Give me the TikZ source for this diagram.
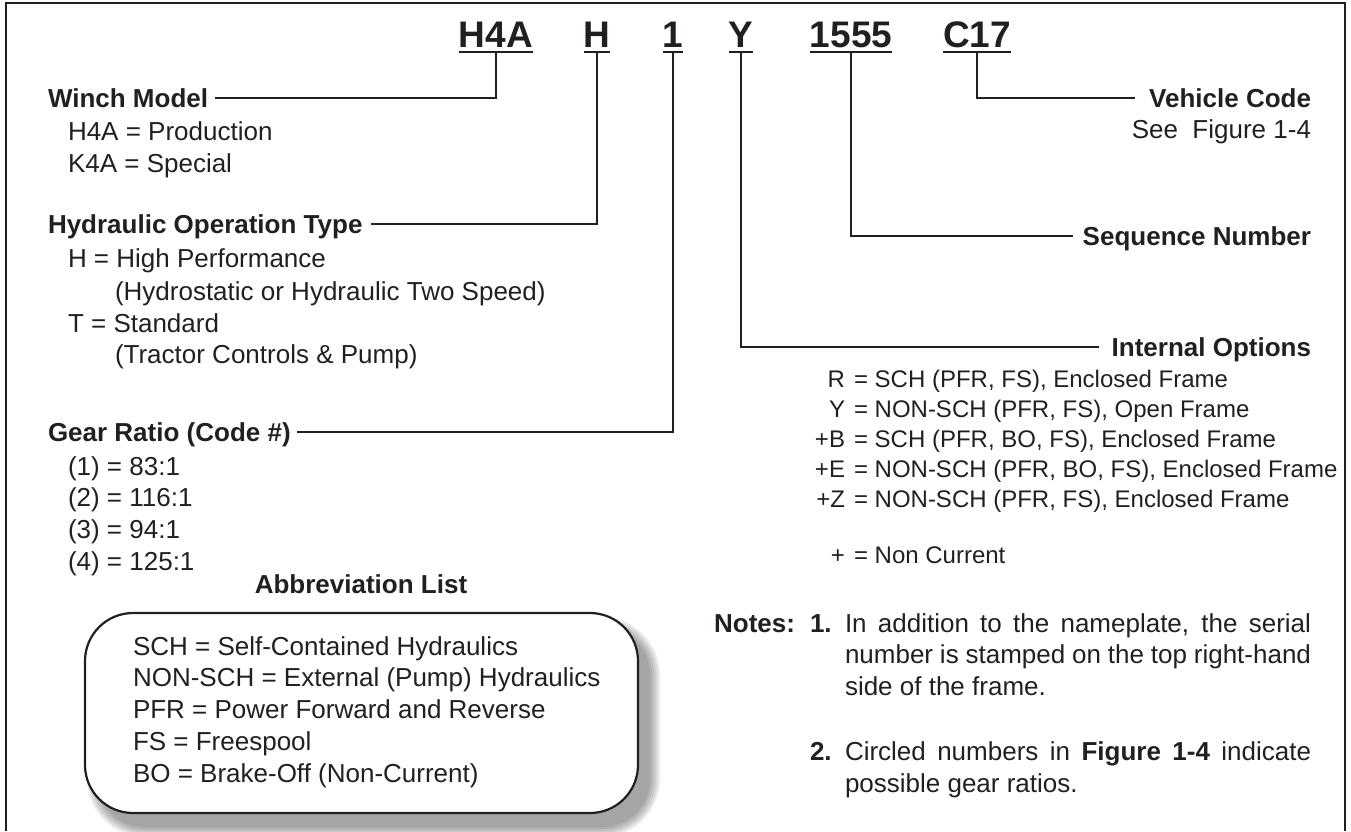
\documentclass[tikz,border=0pt]{standalone}
\usepackage{fontspec}
\setmainfont{Liberation Sans}
\definecolor{ink}{HTML}{231F20}
\begin{document}
\begin{tikzpicture}[x=1pt,y=-1pt,
  every node/.style={inner sep=0pt, outer sep=0pt, text=ink},
  codetxt/.style={font=\fontsize{37}{40}\selectfont\bfseries, anchor=base},
  headtxt/.style={font=\fontsize{26}{30}\selectfont\bfseries},
  bodytxt/.style={font=\fontsize{26}{30}\selectfont, anchor=base west},
  opttxt/.style={font=\fontsize{24}{28}\selectfont, anchor=base west},
  leader/.style={line width=2pt, draw=ink},
  frameline/.style={line width=2pt, draw=ink},
  abbrbox/.style={draw=ink, line width=2.2pt, fill=white, rounded corners=48pt, minimum width=553pt, minimum height=200pt}
]
\useasboundingbox (0,0) rectangle (1351,831);
% frame
\draw[frameline] (6,831) -- (6,3) -- (1345,3) -- (1345,831);

% code letters
\node[codetxt] (cA) at (496,47) {H4A};
\node[codetxt] (cB) at (597,47) {H};
\node[codetxt] (cC) at (673,47) {1};
\node[codetxt] (cD) at (741,47) {Y};
\node[codetxt] (cE) at (851,47) {1555};
\node[codetxt] (cF) at (977,47) {C17};
\foreach \n in {cA,cB,cC,cD,cE,cF}
  \draw[leader] ([yshift=-5pt]\n.base west) -- ([yshift=-5pt]\n.base east);

% left headings
\node[headtxt, anchor=base west] (hWinch) at (48,107) {Winch Model};
\node[headtxt, anchor=base west] (hHyd) at (48,233) {Hydraulic Operation Type};
\node[headtxt, anchor=base west] (hGear) at (48,441) {Gear Ratio (Code \#)};
% right headings
\node[headtxt, anchor=base east] (hVeh) at (1311,107) {Vehicle Code};
\node[headtxt, anchor=base east] (hSeq) at (1311,245) {Sequence Number};
\node[headtxt, anchor=base east] (hInt) at (1311,356) {Internal Options};

% leaders
\draw[leader] ([yshift=-5pt]cA.base) |- ([shift={(7pt,9.3pt)}]hWinch.base east);
\draw[leader] ([yshift=-5pt]cB.base) |- ([shift={(9pt,9.3pt)}]hHyd.base east);
\draw[leader] ([yshift=-5pt]cC.base) |- ([shift={(6pt,9.3pt)}]hGear.base east);
\draw[leader] ([yshift=-5pt]cD.base) |- ([shift={(-13pt,9.3pt)}]hInt.base west);
\draw[leader] ([yshift=-5pt]cE.base) |- ([shift={(-10pt,9.3pt)}]hSeq.base west);
\draw[leader] ([yshift=-5pt]cF.base) |- ([shift={(-14pt,9.3pt)}]hVeh.base west);

% left body
\node[bodytxt] (w1) at (68,140) {H4A = Production};
\node[bodytxt] (w2) at (68,172) {K4A = Special};
\node[bodytxt] (h1) at (68,267) {H = High Performance};
\node[bodytxt] (h2) at (115,300) {(Hydrostatic or Hydraulic Two Speed)};
\node[bodytxt] (h3) at (68,332) {T = Standard};
\node[bodytxt] (h4) at (115,363) {(Tractor Controls \& Pump)};
\node[bodytxt] (g1) at (68,475) {(1) = 83:1};
\node[bodytxt] (g2) at (68,506) {(2) = 116:1};
\node[bodytxt] (g3) at (68,538) {(3) = 94:1};
\node[bodytxt] (g4) at (68,570) {(4) = 125:1};

% right body
\node[bodytxt, anchor=base east] (vsee) at (1311,138) {See~ Figure 1-4};
\foreach \lab/\txt/\yy/\nm in {R/{= SCH (PFR, FS), Enclosed Frame}/387/oR,
  Y/{= NON-SCH (PFR, FS), Open Frame}/417/oY,
  +B/{= SCH (PFR, BO, FS), Enclosed Frame}/447/oB,
  +E/{= NON-SCH (PFR, BO, FS), Enclosed Frame}/477/oE,
  +Z/{= NON-SCH (PFR, FS), Enclosed Frame}/507/oZ,
  +/{= Non Current}/563/oP}{
  \node[opttxt, anchor=base east] (\nm l) at (845,\yy) {\lab};
  \node[opttxt] (\nm t) at (854,\yy) {\txt};
}

% abbreviation box with soft shadow
\foreach \e in {10,8,6,4,2,0}
  \fill[black, opacity=0.07, rounded corners=48+\e] (97-\e,627-\e) rectangle (650+\e,827+\e);
\node[abbrbox] (abbr) at (361.5,713) {};
\node[headtxt, anchor=base] (abbrT) at (361,593) {Abbreviation List};
\node[bodytxt] (a1) at (133,655) {SCH = Self-Contained Hydraulics};
\node[bodytxt] (a2) at (133,686) {NON-SCH = External (Pump) Hydraulics};
\node[bodytxt] (a3) at (133,718) {PFR = Power Forward and Reverse};
\node[bodytxt] (a4) at (133,750) {FS = Freespool};
\node[bodytxt] (a5) at (133,782) {BO = Brake-Off (Non-Current)};

% notes
\node[headtxt, anchor=base east] (notes) at (795,632) {Notes:};
\node[headtxt, anchor=base west] (n1) at (810,632) {1.};
\node[bodytxt] (n1a) at (845,632) {\makebox[466pt][s]{In addition to the nameplate, the serial}};
\node[bodytxt] (n1b) at (845,663) {\makebox[466pt][s]{number is stamped on the top right-hand}};
\node[bodytxt] (n1c) at (845,695) {side of the frame.};
\node[headtxt, anchor=base west] (n2) at (810,760) {2.};
\node[bodytxt] (n2a) at (845,760) {\makebox[466pt][s]{Circled numbers in \textbf{Figure 1-4} indicate}};
\node[bodytxt] (n2b) at (845,792) {possible gear ratios.};
\end{tikzpicture}
\end{document}
